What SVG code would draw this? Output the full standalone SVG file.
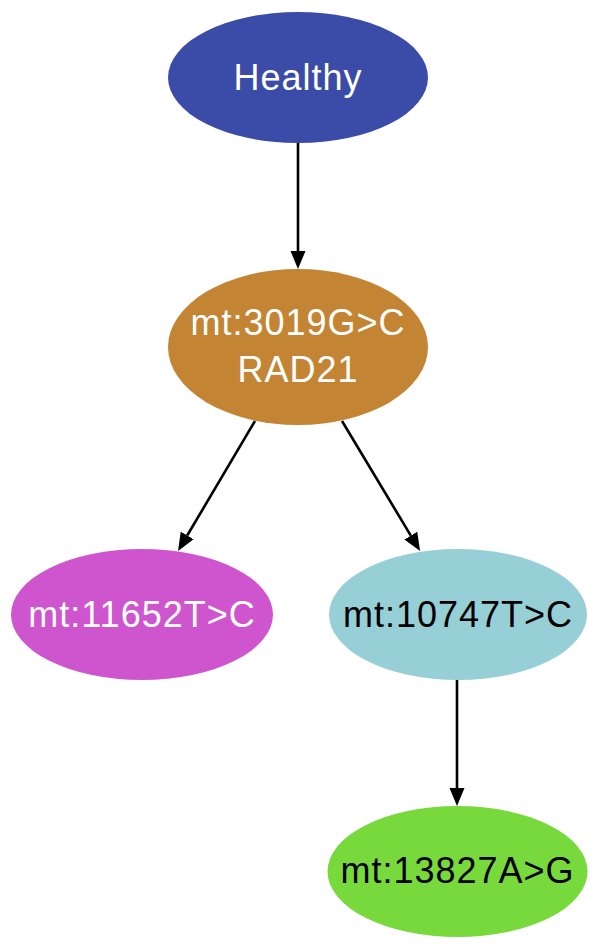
<svg xmlns="http://www.w3.org/2000/svg" width="600" height="950" viewBox="0 0 600 950">
<style>
text{font-family:"Liberation Sans",Arial,sans-serif;font-size:36px;text-anchor:middle;letter-spacing:1px}
.w{fill:#ffffff}.b{fill:#000000}
.e{stroke:#000;stroke-width:2.6;fill:none}
</style>
<defs>
<marker id="ah" markerUnits="userSpaceOnUse" markerWidth="19" markerHeight="16" refX="0" refY="7.5" orient="auto">
<path d="M0,0 L18,7.5 L0,15 z" fill="#000"/>
</marker>
</defs>
<rect width="600" height="950" fill="#fff"/>
<g id="edges">
<line class="e" x1="298" y1="143" x2="298" y2="251" marker-end="url(#ah)"/>
<line class="e" x1="255" y1="421" x2="187.2" y2="535.5" marker-end="url(#ah)"/>
<line class="e" x1="342" y1="421" x2="410.8" y2="535.6" marker-end="url(#ah)"/>
<line class="e" x1="457" y1="680" x2="457" y2="788" marker-end="url(#ah)"/>
</g>
<g id="healthy">
<ellipse cx="298" cy="77.5" rx="130" ry="65.5" fill="#3B4BA8"/>
<text class="w" x="298" y="90">Healthy</text>
</g>
<g id="n3019">
<ellipse cx="298" cy="347" rx="130" ry="78" fill="#C38534"/>
<text class="w" x="298" y="335">mt:3019G&gt;C</text>
<text class="w" x="298" y="382">RAD21</text>
</g>
<g id="n11652">
<ellipse cx="142" cy="614.5" rx="131" ry="65.5" fill="#CF55CF"/>
<text class="w" x="142" y="627">mt:11652T&gt;C</text>
</g>
<g id="n10747">
<ellipse cx="458" cy="614.5" rx="129" ry="65.5" fill="#96CFD6"/>
<text class="b" x="458" y="627">mt:10747T&gt;C</text>
</g>
<g id="n13827">
<ellipse cx="457.5" cy="871.5" rx="130" ry="65.5" fill="#77D93C"/>
<text class="b" x="457.5" y="883">mt:13827A&gt;G</text>
</g>
</svg>
